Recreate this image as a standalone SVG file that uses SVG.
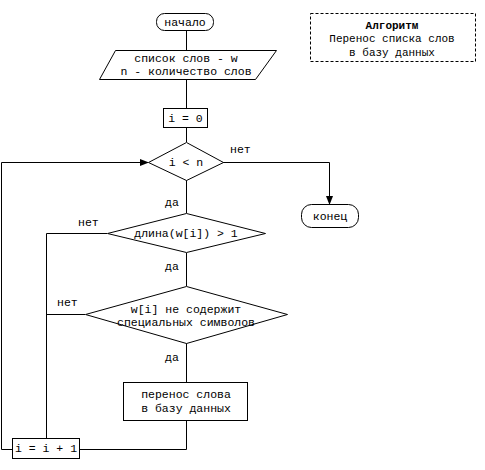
<svg xmlns="http://www.w3.org/2000/svg" width="485" height="470" viewBox="0 0 485 470">
<defs>
<style>
.s{fill:#fff;stroke:#000;stroke-width:1}
.c{fill:none;stroke:#000;stroke-width:1}
text{font-family:"Liberation Mono","DejaVu Sans Mono",monospace;font-size:11.5px;fill:#000}
.m{text-anchor:middle}
.n{font-size:11px}
</style>
<marker id="arr" markerWidth="9" markerHeight="7" refX="8" refY="3.5" orient="auto" markerUnits="userSpaceOnUse">
<path d="M0,0 L9,3.5 L0,7 Z" fill="#000"/>
</marker>
</defs>
<rect width="485" height="470" fill="#fff"/>
<g id="connectors">
<path class="c" d="M186.5,30 V50"/>
<path class="c" d="M186.5,79 V108"/>
<path class="c" d="M186.5,127 V142"/>
<path class="c" d="M186.5,180 V213"/>
<path class="c" d="M186.5,253 V286"/>
<path class="c" d="M186.5,343 V382"/>
<path class="c" d="M186.5,420 V449.5 H79"/>
<path class="c" d="M12,449.5 H1.5 V162.5 H148" marker-end="url(#arr)"/>
<path class="c" d="M223,162.5 H329.5 V204" marker-end="url(#arr)"/>
<path class="c" d="M107,233.5 H46.5 V438"/>
<path class="c" d="M85,314.5 H46.5"/>
<text x="230" y="153">нет</text>
<text x="165" y="206">да</text>
<text x="78" y="226">нет</text>
<text x="165" y="270">да</text>
<text x="57" y="306">нет</text>
<text x="165" y="361">да</text>
</g>
<g id="start">
<rect class="s" x="156.5" y="13.5" width="57" height="17" rx="8"/>
<text class="m" x="185" y="26">начало</text>
</g>
<g id="input">
<path class="s" d="M115.5,50.5 H276.5 L255.5,79.5 H99.5 Z"/>
<text class="m" x="186" y="62">список слов - w</text>
<text class="m" x="186" y="75">n - количество слов</text>
</g>
<g id="init">
<rect class="s" x="163.5" y="108.5" width="44" height="19"/>
<text class="m" x="185.5" y="122">i = 0</text>
</g>
<g id="cond1">
<path class="s" d="M186.5,142.5 L223.5,162.5 L186.5,180.5 L148.5,162.5 Z"/>
<text class="m" x="186" y="166">i &lt; n</text>
</g>
<g id="end">
<rect class="s" x="301.5" y="204.5" width="57" height="23" rx="10"/>
<text class="m" x="330" y="220">конец</text>
</g>
<g id="cond2">
<path class="s" d="M186.5,213.5 L265.5,233.5 L186.5,252.5 L107.5,233.5 Z"/>
<text class="m" x="186" y="237">длина(w[i]) &gt; 1</text>
</g>
<g id="cond3">
<path class="s" d="M186.5,286.5 L287.5,314.5 L186.5,343.5 L85.5,314.5 Z"/>
<text class="m" x="186" y="313">w[i] не содержит</text>
<text class="m" x="186" y="326">специальных символов</text>
</g>
<g id="transfer">
<rect class="s" x="123.5" y="382.5" width="124" height="38"/>
<text class="m" x="186" y="398">перенос слова</text>
<text class="m" x="186" y="412">в базу данных</text>
</g>
<g id="incr">
<rect class="s" x="12.5" y="438.5" width="67" height="20"/>
<text class="m" x="46" y="452">i = i + 1</text>
</g>
<g id="note">
<rect x="310.5" y="13.5" width="165" height="48" fill="#fff" stroke="#000" stroke-dasharray="3,2"/>
<text class="m n" x="392" y="29" font-weight="bold">Алгоритм</text>
<text class="m n" x="392" y="42">Перенос списка слов</text>
<text class="m n" x="392" y="56">в базу данных</text>
</g>
</svg>
